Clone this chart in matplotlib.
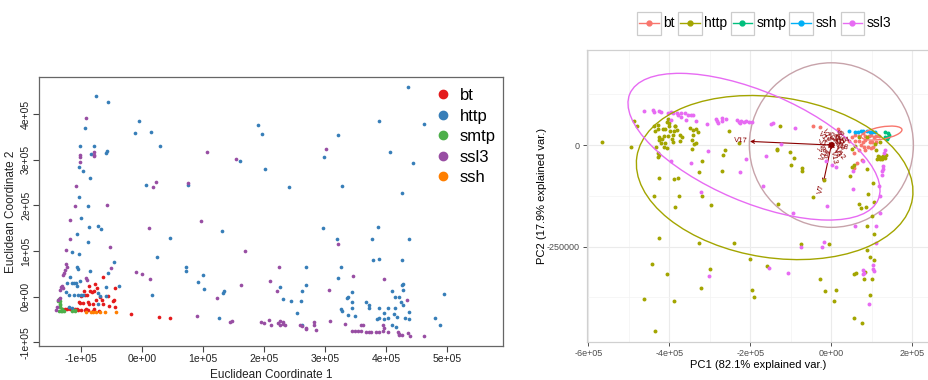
import numpy as np
import matplotlib.pyplot as plt
from matplotlib.patches import Ellipse, Rectangle
from matplotlib.lines import Line2D

plt.rcParams['font.family'] = ['Liberation Sans', 'DejaVu Sans']

U = 1e5  # all coordinates below are given in units of 1e5

# ---------------- MDS of the flows (left) ----------------
mds_groups = ['bt', 'http', 'smtp', 'ssl3', 'ssh']
mds_colors = ['#E41A1C', '#377EB8', '#4DAF4A', '#984EA3', '#FF7F00']

mds_bt = [(-0.649, 0.43), (-0.874, 0.24), (-0.770, 0.28), (-0.743, 0.20), (-0.452, 0.18),
          (-0.95, 0.125), (-0.862, 0.12), (-0.82, 0.10), (-0.79, 0.13), (-0.91, 0.03),
          (-1.02, -0.13), (-0.977, -0.14), (-0.885, -0.11), (-0.874, -0.15), (-0.808, -0.15),
          (-0.754, -0.08), (-0.666, -0.07), (-0.639, -0.16), (-0.546, -0.21), (-0.48, -0.09),
          (-0.452, -0.22), (-1.234, -0.27), (-1.185, -0.27), (-1.098, -0.27), (-1.059, -0.30),
          (-1.01, -0.30), (-0.944, -0.30), (-0.885, -0.30), (-0.808, -0.31), (-0.705, -0.31),
          (-0.185, -0.386), (0.279, -0.445), (0.449, -0.467), (-1.0, 0.02), (-0.94, 0.04),
          (-0.69, 0.0), (-0.56, 0.01), (-0.46, -0.07), (-1.075, -0.27), (-0.92, -0.27),
          (-0.79, -0.27), (-1.32, -0.27), (-1.26, -0.27), (-1.04, -0.11)]

mds_http = [(-0.759, 4.40), (-0.567, 4.26), (-0.944, 3.71), (-0.054, 3.86), (-0.125, 3.59),
            (0.143, 3.61), (0.285, 3.31), (-1.021, 3.31), (-0.797, 3.30), (-0.846, 3.14),
            (-0.600, 3.16), (-0.574, 3.20), (-1.043, 2.84), (-0.967, 2.76), (-0.862, 2.60),
            (-1.038, 2.18), (-0.885, 1.99), (0.056, 2.46), (0.754, 2.44), (1.597, 2.98),
            (1.90, 3.76), (4.35, 4.59), (1.957, 3.57), (3.88, 3.85), (4.62, 3.79),
            (3.20, 3.54), (2.98, 3.06), (4.06, 3.18), (4.44, 2.93), (2.01, 2.80),
            (2.40, 2.41), (3.27, 2.42), (4.26, 2.28), (-1.0, 1.72), (-0.874, 1.53),
            (-0.731, 1.55), (-0.677, 1.48), (-1.075, 1.38), (-0.895, 1.19), (-1.152, 0.99),
            (-1.038, 0.94), (0.454, 1.28), (0.241, 0.86), (-0.469, 0.77), (-0.562, 0.51),
            (0.159, 0.04), (-1.066, 0.66), (-1.049, 0.61), (-0.852, 0.56), (-1.19, 0.44),
            (-1.02, 0.34), (-1.23, 0.31), (-1.157, 0.31), (-1.115, 0.31), (-1.092, 0.31),
            (-1.075, 0.23), (-0.60, 0.22), (-0.382, 0.23), (-1.246, 0.10), (-1.20, 0.04),
            (-1.12, 0.04), (-1.054, 0.04), (-1.0, 0.04), (-0.967, 0.04), (-0.72, 0.08),
            (-0.69, 0.02), (-0.59, 0.02), (-0.721, -0.16), (-1.197, -0.23), (-1.157, -0.25),
            (1.30, 1.45), (0.72, 0.65), (0.716, 0.56), (0.99, 0.48), (0.92, 0.315),
            (1.01, 0.17), (1.344, 0.125), (1.328, 0.08), (2.96, 1.50), (3.19, 1.27),
            (3.26, 0.65), (2.68, 0.65), (2.25, 0.21), (2.68, 0.25), (2.61, 0.12),
            (2.31, -0.04), (2.43, -0.10), (2.60, -0.09), (2.54, -0.36), (3.20, 0.42),
            (3.86, 1.52), (3.77, 1.26), (4.37, 1.27), (3.78, 0.80), (3.885, 0.83),
            (4.26, 0.80), (4.09, 0.12), (4.25, 0.25), (4.28, 0.28), (4.27, 0.15),
            (3.44, 0.10), (3.38, 0.0), (3.35, -0.035), (3.25, -0.27), (3.27, -0.32),
            (3.43, -0.11), (3.43, -0.25), (3.37, -0.41), (3.49, -0.43), (3.67, -0.12),
            (3.72, -0.19), (3.71, -0.25), (3.88, -0.24), (4.03, -0.24), (4.14, -0.24),
            (4.24, -0.12), (4.21, 0.0), (4.15, 0.0), (4.28, -0.19), (3.97, -0.36),
            (4.12, -0.37), (4.17, -0.45), (4.37, -0.33), (4.31, -0.47), (4.37, -0.48),
            (3.875, -0.47), (3.85, -0.49), (4.02, -0.47), (3.97, -0.49), (4.10, -0.62),
            (4.16, -0.67), (4.80, -0.47), (4.875, -0.61), (4.95, 0.06), (1.25, -0.47),
            (2.62, -0.63)]

mds_smtp = [(-1.344, -0.09), (-1.344, -0.16), (-1.366, -0.31), (-1.338, -0.31), (-1.31, -0.31),
            (-1.284, -0.31), (-1.157, -0.31), (-1.10, -0.31), (-1.377, -0.09), (-1.35, -0.19),
            (-1.32, -0.28), (-1.10, -0.29), (-1.36, -0.05), (-1.35, -0.22)]

mds_ssl3 = [(-0.923, 3.92), (-1.02, 3.11), (-1.02, 3.06), (-1.02, 2.95), (-0.787, 3.17),
            (-0.787, 3.11), (-0.787, 3.08), (-1.082, 2.42), (-1.108, 1.99), (-0.584, 2.00),
            (0.225, 2.52), (0.175, 2.40), (0.749, 2.50), (1.061, 3.17), (1.536, 3.03),
            (3.01, 3.24), (-1.19, 1.675), (-1.19, 1.26), (-0.530, 1.08), (-1.246, 1.03),
            (0.110, 1.50), (-0.508, 0.62), (-0.108, 0.535), (-0.010, 0.49), (0.131, 0.39),
            (-1.256, 0.71), (-1.24, 0.66), (-1.267, 0.585), (-1.279, 0.526), (-1.295, 0.476),
            (-0.928, 0.42), (-0.902, 0.37), (-1.338, 0.21), (-1.321, 0.235), (-1.349, 0.14),
            (-1.30, 0.18), (-1.354, -0.02), (-1.377, -0.07), (-1.393, -0.23), (-1.41, -0.285),
            (0.957, 1.667), (1.69, 1.01), (1.23, -0.03), (1.613, 0.26), (3.21, 1.16),
            (2.246, 0.66), (2.10, 0.35), (2.20, 0.13), (3.06, 0.14), (3.46, 0.45),
            (3.96, 0.39), (4.34, -0.066), (0.897, -0.43), (1.44, -0.55), (1.466, -0.54),
            (1.946, -0.555), (2.0, -0.58), (2.07, -0.52), (2.11, -0.62), (2.22, -0.58),
            (2.26, -0.53), (2.30, -0.60), (2.34, -0.62), (2.25, -0.62), (2.31, -0.56),
            (2.59, -0.63), (2.61, -0.65), (2.69, -0.68), (2.68, -0.71), (2.815, -0.55),
            (2.81, -0.62), (2.85, -0.72), (3.07, -0.54), (3.32, -0.60), (3.43, -0.745),
            (3.49, -0.745), (3.54, -0.745), (3.58, -0.745), (3.58, -0.62), (3.62, -0.62),
            (3.67, -0.78), (3.71, -0.78), (3.75, -0.78), (3.83, -0.78), (3.88, -0.78),
            (3.94, -0.62), (3.97, -0.69), (3.94, -0.75), (4.02, -0.77), (4.19, -0.77),
            (4.21, -0.81), (4.25, -0.84), (4.21, -0.85), (4.36, -0.80), (4.39, -0.86),
            (4.62, -0.855)]

mds_ssh = [(-0.928, -0.34), (-0.836, -0.34), (-0.813, -0.34), (-0.764, -0.34),
           (-0.689, -0.34), (-0.612, -0.34), (-0.436, -0.34)]

mds_ticks_x = [-1, 0, 1, 2, 3, 4, 5]
mds_ticks_y = [-1, 0, 1, 2, 3, 4]

# ---------------- PCA biplot (right) ----------------
pca_groups = ['bt', 'http', 'smtp', 'ssh', 'ssl3']
pca_colors = ['#F8766D', '#A3A500', '#00BF7D', '#00B0F6', '#E76BF3']

pca_bt = [(-0.45, 0.46), (-0.28, 0.45), (0.16, 0.385), (0.58, 0.25), (0.675, 0.22),
          (0.78, 0.29), (0.84, 0.22), (0.92, 0.22), (0.99, 0.24), (1.045, 0.19),
          (1.10, 0.22), (1.18, 0.22), (0.58, 0.11), (0.68, 0.10), (0.77, 0.07),
          (0.83, 0.12), (0.95, 0.07), (1.01, 0.08), (1.095, 0.07), (0.72, -0.01),
          (0.80, -0.04), (0.90, -0.04), (1.02, -0.04), (0.67, -0.12), (0.84, -0.12),
          (0.98, -0.08), (0.57, -0.20), (0.75, -0.36), (0.64, -0.45), (0.55, -0.57),
          (0.50, 0.19), (0.44, 0.10)]

pca_http = [(-5.66, 0.066), (-4.95, -0.057), (-4.88, 0.60), (-4.81, 0.47), (-4.37, 0.475),
            (-4.29, 0.49), (-4.35, 0.34), (-4.28, 0.40), (-4.16, 0.385), (-4.11, 0.385),
            (-4.07, 0.57), (-4.04, 0.63), (-4.0, 0.54), (-4.02, 0.47), (-3.87, 0.48),
            (-3.98, 0.35), (-3.89, 0.35), (-3.81, 0.37), (-3.85, 0.48), (-4.26, 0.21),
            (-4.14, 0.23), (-4.03, 0.22), (-3.90, 0.24), (-3.74, 0.25), (-3.69, 0.19),
            (-3.73, 0.11), (-3.94, 0.14), (-4.255, 0.12), (-4.21, 0.05), (-4.115, 0.04),
            (-4.17, 0.15), (-4.32, -0.04), (-4.27, -0.19), (-4.255, -0.24), (-4.29, -0.29),
            (-4.13, -0.05), (-4.06, -0.07), (-3.90, 0.08), (-3.48, 0.43), (-3.42, 0.37),
            (-3.34, 0.40), (-3.29, 0.32), (-3.42, 0.25), (-3.45, 0.12), (-3.38, 0.02),
            (-3.34, 0.04), (-3.44, -0.09), (-3.20, -0.40), (-3.27, -0.66), (-2.53, 0.35),
            (-2.63, -0.12), (-2.68, -0.25), (-2.70, -0.63), (-2.29, 0.06), (-4.255, -0.80),
            (-3.88, -0.84), (-3.79, -0.80), (-4.37, -1.26), (-3.77, -1.25), (-3.20, -1.25),
            (-1.28, 0.47), (-1.34, -0.09), (-1.33, -0.12), (-1.02, -0.16), (-0.92, -0.31),
            (-1.0, -0.49), (-0.72, -0.56), (-0.72, -0.65), (-0.19, -0.86), (0.50, -0.09),
            (0.59, -0.02), (0.67, 0.19), (0.87, 0.19), (1.08, 0.03), (1.19, 0.07),
            (1.095, -0.12), (1.14, -0.27), (1.21, -0.29), (1.28, -0.27), (1.34, -0.25),
            (1.13, -0.34), (1.19, -0.35), (1.26, -0.35), (1.33, -0.32), (0.56, -0.49),
            (0.50, -0.55), (0.45, -0.77), (0.89, -0.60), (1.03, -0.94), (0.90, -1.20),
            (-3.86, -1.52), (-2.97, -1.48), (-4.26, -2.28), (-3.27, -2.41), (-2.40, -2.40),
            (-2.02, -2.80), (-4.44, -2.92), (-4.07, -3.17), (-3.0, -3.06), (-3.21, -3.52),
            (-4.62, -3.79), (-3.88, -3.84), (-1.97, -3.57), (-1.92, -3.75), (-4.35, -4.57),
            (-1.31, -1.44), (-0.46, -1.28), (0.67, -1.46), (0.73, -1.56), (0.86, -1.53),
            (1.06, -1.39), (1.0, -1.74), (0.88, -1.98), (1.04, -2.18), (-0.76, -2.43),
            (-0.06, -2.44), (0.87, -2.58), (0.96, -2.75), (1.045, -2.83), (-1.60, -2.97),
            (-0.29, -3.30), (-0.15, -3.59), (0.115, -3.57), (0.06, -3.85), (0.57, -3.18),
            (0.61, -3.15), (0.84, -3.13), (0.80, -3.30), (1.01, -3.30), (0.95, -3.69),
            (0.56, -4.25), (0.75, -4.39)]

pca_smtp = [(1.33, 0.31), (1.39, 0.30), (1.42, 0.26), (1.33, 0.20), (1.40, 0.19), (1.37, 0.14)]

pca_ssh = [(0.44, 0.35), (0.58, 0.33), (0.65, 0.33), (0.72, 0.34), (0.79, 0.34),
           (0.87, 0.34), (0.95, 0.32), (1.01, 0.32), (1.08, 0.32)]

pca_ssl3 = [(-4.63, 0.85), (-4.41, 0.86), (-4.37, 0.82), (-4.26, 0.84), (-4.21, 0.81),
            (-4.03, 0.80), (-3.96, 0.81), (-3.90, 0.80), (-3.82, 0.80), (-3.71, 0.80),
            (-3.61, 0.78), (-3.55, 0.74), (-3.47, 0.75), (-3.41, 0.75), (-3.97, 0.61),
            (-3.79, 0.73), (-3.70, 0.70), (-3.60, 0.61), (-3.33, 0.59), (-3.08, 0.53),
            (-2.86, 0.64), (-2.81, 0.55), (-2.83, 0.60), (-2.71, 0.67), (-2.61, 0.64),
            (-2.69, 0.59), (-2.34, 0.61), (-2.29, 0.58), (-2.23, 0.60), (-2.16, 0.58),
            (-2.26, 0.55), (-2.11, 0.60), (-2.04, 0.56), (-1.96, 0.57), (-3.05, -0.14),
            (-3.97, -0.385), (-3.46, -0.45), (-2.10, -0.34), (-2.25, -0.66), (-3.21, -1.16),
            (-1.45, 0.55), (-1.48, 0.53), (-0.90, 0.43), (-1.24, 0.02), (-1.61, -0.27),
            (-0.13, -0.38), (0.02, -0.48), (0.12, -0.53), (-1.69, -1.01), (1.30, -0.20),
            (1.33, -0.11), (1.28, -0.52), (1.27, -0.58), (1.24, -0.63), (1.24, -0.73),
            (1.18, -1.01), (0.53, -1.07), (0.53, -0.63), (0.79, -0.39), (-3.02, -3.22),
            (-0.955, -1.66), (-0.115, -1.49), (1.19, -1.26), (1.19, -1.66), (0.58, -1.98),
            (1.11, -1.98), (1.09, -2.41), (-0.76, -2.50), (-0.18, -2.39), (-0.22, -2.51),
            (1.03, -2.94), (1.02, -3.05), (1.04, -3.10), (-1.54, -3.02), (-1.06, -3.16),
            (0.77, -3.08), (0.81, -3.15), (0.79, -3.18), (0.92, -3.90)]

# normal-probability ellipses per group: centre, semi-axes, rotation (deg)
ell_groups = ['bt', 'http', 'ssl3']
ell_center = [(1.24, 0.295), (-1.40, -0.80), (-1.91, -0.04)]
ell_axes = [(0.51, 0.15), (3.44, 1.975), (3.33, 1.36)]
ell_angle = [10, -8.6, -23]
circle_radius = 2.025

# variable loadings (arrows)
load_names = ['V1', 'V2', 'V3', 'V4', 'V5', 'V6', 'V7', 'V8', 'V9', 'V10',
              'V11', 'V12', 'V13', 'V14', 'V15', 'V16', 'V17', 'V18', 'V19', 'V20']
load_x = [-0.05, 0.06, 0.04, -0.02, 0.07, 0.02, -0.20, -0.05, 0.08, 0.05,
          -0.04, 0.06, 0.015, 0.09, -0.015, 0.03, -2.01, 0.05, -0.03, 0.07]
load_y = [0.01, 0.05, -0.06, -0.07, 0.015, 0.08, -0.93, -0.03, -0.02, 0.06,
          0.04, -0.07, -0.09, 0.03, 0.03, 0.01, 0.09, -0.01, -0.05, 0.07]

pca_ticks_x = [-6, -4, -2, 0, 2]
pca_ticks_y = [0, -2.5]
pca_tick_labels_y = ['0', '-250000']

# ---------------- figure ----------------
W, H = 929, 380
fig = plt.figure(figsize=(W / 100, H / 100), dpi=100)


def px_box(l, t, r, b):
    return [l / W, 1 - b / H, (r - l) / W, (b - t) / H]


def sci(v):
    return '%.0e' % v


# left panel, base-R look
ax1 = fig.add_axes(px_box(39.3, 77.3, 503, 346))
for pts, col in zip([mds_bt, mds_http, mds_smtp, mds_ssl3, mds_ssh], mds_colors):
    p = np.array(pts) * U
    ax1.scatter(p[:, 0], p[:, 1], s=7, color=col, linewidths=0, zorder=3)
ax1.set_xlim(-1.689 * U, 5.913 * U)
ax1.set_ylim(-1.081 * U, 4.811 * U)
ax1.set_xticks([t * U for t in mds_ticks_x])
ax1.set_xticklabels([sci(t * U) for t in mds_ticks_x])
ax1.set_yticks([t * U for t in mds_ticks_y])
ax1.set_yticklabels([sci(t * U) for t in mds_ticks_y], rotation=90, va='center')
ax1.tick_params(direction='out', length=4, width=0.8, colors='#444444',
                labelsize=7.5, labelcolor='#222222', pad=2)
for s in ax1.spines.values():
    s.set_color('#666666')
    s.set_linewidth(0.9)
ax1.set_xlabel('Euclidean Coordinate 1', fontsize=8.5, color='#222222', labelpad=3)
ax1.set_ylabel('Euclidean Coordinate 2', fontsize=8.5, color='#222222', labelpad=3)
handles = [Line2D([], [], ls='', marker='o', ms=6, mfc=c, mec=c) for c in mds_colors]
ax1.legend(handles, mds_groups, loc='upper left', bbox_to_anchor=(437 / W, 1 - 88 / H),
           bbox_transform=fig.transFigure, frameon=False, fontsize=12,
           handlelength=0.7, handletextpad=0.65, labelspacing=0.33,
           borderpad=0, borderaxespad=0)

# right panel, ggbiplot look
ax2 = fig.add_axes(px_box(586.7, 50, 929, 341.7))
ax2.set_xlim(-6.04 * U, 2.41 * U)
ax2.set_ylim(-4.84 * U, 2.34 * U)
ax2.set_xticks([t * U for t in pca_ticks_x])
ax2.set_xticklabels([sci(t * U) for t in pca_ticks_x])
ax2.set_yticks([t * U for t in pca_ticks_y])
ax2.set_yticklabels(pca_tick_labels_y)
ax2.set_xticks([(t + 1) * U for t in pca_ticks_x[:-1]], minor=True)
ax2.set_yticks([1.25 * U, -1.25 * U, -3.75 * U], minor=True)
ax2.grid(True, which='major', color='#EBEBEB', lw=0.8, zorder=0)
ax2.grid(True, which='minor', color='#F3F3F3', lw=0.5, zorder=0)
ax2.set_axisbelow(True)
ax2.tick_params(which='major', direction='out', length=3, width=0.6, colors='#333333',
                labelsize=6.5, labelcolor='#4D4D4D', pad=2)
ax2.tick_params(which='minor', length=0)
for s in ax2.spines.values():
    s.set_color('#D0D0D0')
    s.set_linewidth(0.9)
ax2.set_xlabel('PC1 (82.1% explained var.)', fontsize=8, labelpad=2)
ax2.set_ylabel('PC2 (17.9% explained var.)', fontsize=8, labelpad=0)

ax2.add_patch(Ellipse((0, 0), 2 * circle_radius * U, 2 * circle_radius * U,
                      fill=False, ec='#C7A3AA', lw=1.0, zorder=2))

dark_red = '#8B0000'
for name, vx, vy in zip(load_names, load_x, load_y):
    ax2.annotate('', xy=(vx * U, vy * U), xytext=(0, 0),
                 arrowprops=dict(arrowstyle='->', color=dark_red, lw=0.8,
                                 shrinkA=0, shrinkB=0, mutation_scale=6), zorder=2)

for pts, col in zip([pca_bt, pca_http, pca_smtp, pca_ssh, pca_ssl3], pca_colors):
    p = np.array(pts) * U
    ax2.scatter(p[:, 0], p[:, 1], s=8, color=col, linewidths=0, zorder=3)

for g, c, (a, b), ang in zip(ell_groups, ell_center, ell_axes, ell_angle):
    col = pca_colors[pca_groups.index(g)]
    ax2.add_patch(Ellipse((c[0] * U, c[1] * U), 2 * a * U, 2 * b * U, angle=ang,
                          fill=False, ec=col, lw=1.0, zorder=4))

for name, vx, vy in zip(load_names, load_x, load_y):
    ang = np.degrees(np.arctan(vy / vx))
    sgn = 1 if vx > 0 else -1
    off = (1.5 * sgn * np.cos(np.radians(ang)), 1.5 * sgn * np.sin(np.radians(ang)))
    ax2.annotate(name, xy=(vx * U, vy * U), xytext=off, textcoords='offset points',
                 rotation=ang, rotation_mode='anchor', ha='left' if vx > 0 else 'right',
                 va='center', fontsize=5.5, color=dark_red, zorder=5)

# legend strip above the biplot
key_left = [637.3, 678.3, 730.7, 789.3, 840.7]
key_w, key_top, key_bot = 23.4, 11.7, 35.0
for g, col, kx in zip(pca_groups, pca_colors, key_left):
    fig.add_artist(Rectangle((kx / W, 1 - key_bot / H), key_w / W, (key_bot - key_top) / H,
                             transform=fig.transFigure, fill=True, fc='white',
                             ec='#CCCCCC', lw=0.9))
    yc = 1 - (key_top + key_bot) / 2 / H
    fig.add_artist(Line2D([(kx + 2) / W, (kx + key_w - 2) / W], [yc, yc],
                          transform=fig.transFigure, color=col, lw=1.0))
    fig.add_artist(Line2D([(kx + key_w / 2) / W], [yc], transform=fig.transFigure,
                          ls='', marker='o', ms=3.5, mfc=col, mec=col))
    fig.text((kx + key_w + 2.5) / W, yc, g, fontsize=10, va='center', ha='left')

fig.savefig('out.png', dpi=100)
